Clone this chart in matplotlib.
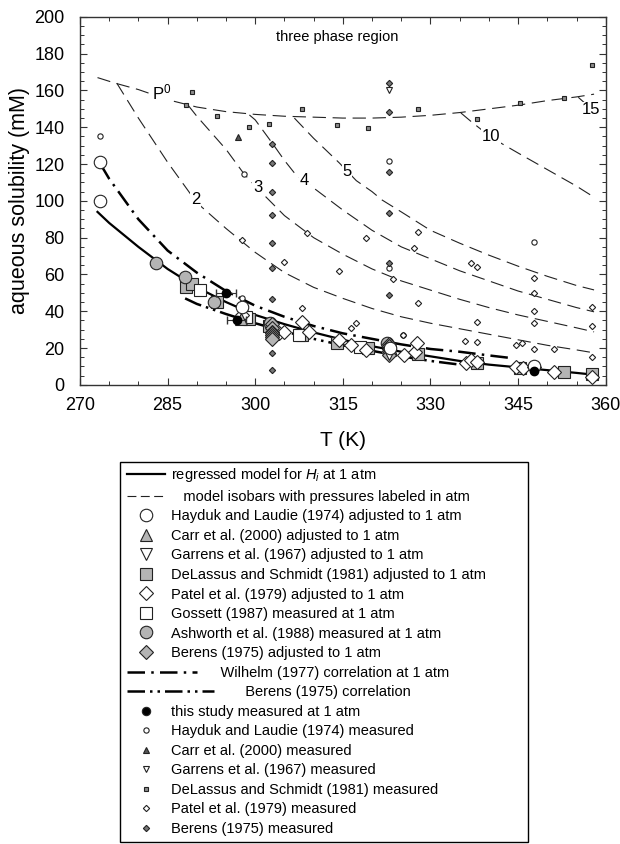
import matplotlib.pyplot as plt
from matplotlib.legend_handler import HandlerLine2D
from matplotlib.lines import Line2D
from matplotlib.patches import Rectangle
from matplotlib.ticker import MultipleLocator

plt.rcParams['font.family'] = ['Liberation Sans', 'DejaVu Sans']
plt.rcParams['mathtext.fontset'] = 'custom'
plt.rcParams['mathtext.rm'] = 'Liberation Sans'
plt.rcParams['mathtext.it'] = 'Liberation Sans:italic'

# regressed model for Hi at 1 atm
model_T = [273, 275, 280, 285, 290, 295, 300, 305, 310, 315, 320, 325, 330, 335, 340, 345, 350, 355, 358]
model_S = [94, 88, 75, 63, 53, 45, 38, 33, 28.5, 24.5, 21, 18, 15.5, 13, 11, 9.5, 8, 6.5, 5.5]

# Wilhelm (1977) correlation
wil_T = [273.5, 275, 280, 285, 290, 295, 300, 305, 310, 315, 320, 325, 330, 335, 340, 344]
wil_S = [120, 112, 90, 73, 61, 51, 43, 37, 32, 28, 25, 22, 19.5, 18, 16, 14.5]

# Berens (1975) correlation
ber_T = [288, 290, 295, 300, 305, 310, 315, 320, 325, 330, 335]
ber_S = [47, 44, 38.5, 33.5, 29, 25, 21.5, 18.5, 15.5, 13, 11]

# model isobars
p0_T = [273, 276, 280, 285, 290, 295, 300, 305, 310, 315, 320, 325, 330, 335, 340, 345, 350, 355, 358]
p0_S = [167, 164, 160.5, 155, 151, 148.5, 147, 146, 145.5, 145, 145, 145.5, 146.5, 148, 150, 152, 154.5, 156.5, 158]
iso2_T = [276.3, 280, 285, 290, 295, 300, 305, 310, 315, 320, 325, 330, 335, 340, 345, 350, 355, 358]
iso2_S = [164, 145, 121, 99, 85, 72, 61, 53, 47, 41.5, 37, 33.5, 30.5, 27.5, 24.5, 21.5, 19, 17.4]
iso3_T = [288.5, 290, 295, 298, 300, 305, 310, 315, 320, 325, 330, 335, 340, 345, 350, 355, 358]
iso3_S = [152, 146, 128, 115, 108, 92, 80, 71, 63, 56.5, 51.5, 46.5, 42, 38, 34.5, 31, 28.8]
iso4_T = [299, 300, 303, 305, 307, 310, 315, 320, 325, 330, 335, 340, 345, 350, 355, 358]
iso4_S = [146.7, 144, 131, 122, 114, 107, 95, 84, 75, 68.5, 62, 56.5, 51, 46.5, 42, 39.7]
iso5_T = [306.7, 310, 314.4, 317.3, 320, 321.7, 325, 330, 335, 340, 345, 350, 355, 358]
iso5_S = [145, 134, 120.6, 111, 105, 100.5, 94, 84, 77, 70.5, 64.5, 59, 54, 51.6]
iso10_T = [335.2, 337, 340, 342, 345, 350, 355, 357.5]
iso10_S = [147.8, 143, 135.5, 131.5, 126, 117, 108, 103]
iso15_T = [355.3, 356.4]
iso15_S = [156.3, 153.2]
iso_labels = ['P$^0$', '2', '3', '4', '5', '10', '15']
iso_label_pos = [(284, 159), (289.8, 100.5), (300.4, 107), (308.4, 111), (315.7, 116), (340.3, 135), (357.4, 149.5)]

# data adjusted to / measured at 1 atm
hay_adj_T = [273.5, 273.5, 297.8, 323, 347.8]
hay_adj_S = [121, 100, 42.5, 20, 10]
carr_adj_T = [297.5]
carr_adj_S = [36]
gar_adj_T = [322.9]
gar_adj_S = [17]
del_adj_T = [288.1, 289.1, 293.5, 299, 302.3, 308, 314, 319.3, 327.9, 337.9, 345.3, 352.8, 357.7]
del_adj_S = [53, 55, 45, 36, 32, 27, 23, 20, 17, 12, 9, 7, 6]
pat_adj_T = [297.8, 304.1, 305, 308, 309.2, 314.4, 316.4, 319, 325.5, 327.4, 327.7, 336, 336.9, 337.9, 344.7, 345.9, 347.8, 351.2, 357.7]
pat_adj_S = [38, 28.3, 29, 34, 28.8, 24.5, 21.7, 19, 16.3, 18, 22.8, 12, 13.6, 12.5, 9.8, 9.2, 9.8, 7, 4.3]
gos_T = [290.5, 298.5, 307.5, 318]
gos_S = [51.5, 37, 27, 20.5]
ash_T = [283, 288, 293, 298, 302.5, 322.5]
ash_S = [66, 58.5, 45, 37.5, 33.5, 22.5]
ber_adj_T = [302.9] * 7 + [322.9] * 6
ber_adj_S = [33, 31, 29, 28, 27, 26, 25, 22, 21, 19.5, 18.5, 17.5, 16.5]
study_T = [295, 296.8, 347.8]
study_S = [50, 35.3, 7.5]
study_err = [1.7, 1.7, 0]

# raw measurements
hay_T = [273.5, 273.5, 298, 297.8, 322.9, 322.9, 325.3, 347.8]
hay_S = [135, 121, 114.7, 47, 121.7, 63.6, 27, 77.7]
carr_T = [297]
carr_S = [134.8]
gar_T = [322.9]
gar_S = [160]
del_T = [288.1, 289.1, 293.5, 299, 302.3, 308, 314, 319.3, 327.9, 337.9, 345.3, 352.8, 357.7]
del_S = [152, 159, 146, 140, 142, 150, 141, 139.7, 150, 144.6, 153.3, 156, 174]
pat_T = [297.8, 305, 308, 308.9, 314.4, 316.4, 317.3, 319, 323.5, 325.3, 327.2, 327.9, 327.9,
         335.9, 336.9, 337.9, 337.9, 337.9, 344.7, 345.7, 347.8, 347.8, 347.8, 347.8, 347.8,
         351.2, 357.7, 357.7, 357.7]
pat_S = [79, 66.8, 42, 82.6, 62, 31, 33.7, 80, 57.6, 27, 74.5, 83, 44.6,
         23.9, 66.3, 64.3, 34.2, 23.4, 21.7, 22.8, 58, 50, 40.2, 33.7, 19.6,
         19.6, 42.4, 32, 15.2]
bern_T = [302.9] * 9 + [322.9] * 6
bern_S = [131, 120.6, 105, 92.4, 77, 63.6, 46.7, 17.4, 8.2, 164, 148.4, 115.8, 93.5, 66.3, 48.9]

grey = '#b4b4b4'
ec = '#222222'

fig = plt.figure(figsize=(6.2, 8.44), dpi=100)
ax = fig.add_axes([0.129, 0.544, 0.848, 0.436])

iso_style = dict(color='#222222', lw=0.8, linestyle=(0, (12, 6)))
for T, S in [(p0_T, p0_S), (iso2_T, iso2_S), (iso3_T, iso3_S), (iso4_T, iso4_S),
             (iso5_T, iso5_S), (iso10_T, iso10_S), (iso15_T, iso15_S)]:
    ax.plot(T, S, zorder=2, **iso_style)
for lab, (tx, ty) in zip(iso_labels, iso_label_pos):
    ax.text(tx, ty, lab, fontsize=12, ha='center', va='center', zorder=3,
            bbox=dict(facecolor='white', edgecolor='none', pad=0.5))

ax.plot(model_T, model_S, color='k', lw=1.6, zorder=3)
ax.plot(wil_T, wil_S, color='k', lw=1.8, linestyle=(0, (7, 2.5, 1, 2.5)), zorder=3)
ax.plot(ber_T, ber_S, color='k', lw=1.8, linestyle=(0, (7, 2, 1, 2, 1, 2)), zorder=3)

big = dict(linestyle='none', markeredgecolor=ec, markeredgewidth=0.8, zorder=5)
small = dict(linestyle='none', markeredgecolor=ec, markeredgewidth=0.8, zorder=4)

ax.plot(del_adj_T, del_adj_S, 's', ms=8, markerfacecolor=grey, **big)
ax.plot(ash_T, ash_S, 'o', ms=9, markerfacecolor=grey, **big)
ax.plot(gos_T, gos_S, 's', ms=8, markerfacecolor='white', **big)
ax.plot(pat_adj_T, pat_adj_S, 'D', ms=7.5, markerfacecolor='white', **big)
ax.plot(ber_adj_T, ber_adj_S, 'D', ms=7.5, markerfacecolor=grey, **big)
ax.plot(carr_adj_T, carr_adj_S, '^', ms=9, markerfacecolor=grey, **big)
ax.plot(gar_adj_T, gar_adj_S, 'v', ms=9, markerfacecolor='white', **big)
ax.plot(hay_adj_T, hay_adj_S, 'o', ms=9, markerfacecolor='white', **big)
ax.errorbar(study_T, study_S, xerr=study_err, fmt='o', ms=6, color='k', ecolor='#333333',
            elinewidth=0.8, capsize=3, zorder=6)

ax.plot(hay_T, hay_S, 'o', ms=3.8, markerfacecolor='white', **small)
ax.plot(carr_T, carr_S, '^', ms=3.8, markerfacecolor='#555555', **small)
ax.plot(gar_T, gar_S, 'v', ms=3.8, markerfacecolor='white', **small)
ax.plot(del_T, del_S, 's', ms=3.5, markerfacecolor='#8c8c8c', **small)
ax.plot(pat_T, pat_S, 'D', ms=3.2, markerfacecolor='white', **small)
ax.plot(bern_T, bern_S, 'D', ms=3.2, markerfacecolor='#777777', **small)

ax.text(314, 189, 'three phase region', fontsize=10.5, ha='center', va='center')

ax.set_xlim(270, 360)
ax.set_ylim(0, 200)
ax.xaxis.set_major_locator(MultipleLocator(15))
ax.xaxis.set_minor_locator(MultipleLocator(5))
ax.yaxis.set_major_locator(MultipleLocator(20))
ax.yaxis.set_minor_locator(MultipleLocator(5))
ax.tick_params(which='both', direction='in', top=True, right=True, labelsize=13, color='#333333')
ax.tick_params(which='major', length=5, width=0.8)
ax.tick_params(which='minor', length=3, width=0.7)
ax.tick_params(axis='x', which='major', pad=9)
ax.tick_params(axis='y', which='major', pad=11)
for sp in ax.spines.values():
    sp.set_color('#333333')
    sp.set_linewidth(1.0)
ax.set_xlabel('T (K)', fontsize=15, labelpad=12)
ax.set_ylabel('aqueous solubility (mM)', fontsize=15.5, labelpad=3)


class LongLine(HandlerLine2D):
    def __init__(self, k, **kw):
        super().__init__(**kw)
        self.k = k

    def create_artists(self, legend, orig_handle, xdescent, ydescent, width, height, fontsize, trans):
        return super().create_artists(legend, orig_handle, xdescent, ydescent, width * self.k,
                                      height, fontsize, trans)


def mk(marker, fc, ms):
    return Line2D([], [], linestyle='none', marker=marker, ms=ms, markerfacecolor=fc,
                  markeredgecolor=ec, markeredgewidth=0.8)


h_model = Line2D([], [], color='k', lw=1.6)
h_iso = Line2D([], [], color='#222222', lw=0.8, linestyle=(0, (8, 4)))
h_wil = Line2D([], [], color='k', lw=1.8, linestyle=(0, (7, 2.5, 1, 2.5)))
h_ber = Line2D([], [], color='k', lw=1.8, linestyle=(0, (7, 2, 1, 2, 1, 2)))

handles = [h_model, h_iso,
           mk('o', 'white', 9), mk('^', grey, 9), mk('v', 'white', 9), mk('s', grey, 8),
           mk('D', 'white', 7.5), mk('s', 'white', 8), mk('o', grey, 9), mk('D', grey, 7.5),
           h_wil, h_ber,
           mk('o', 'k', 6), mk('o', 'white', 3.8), mk('^', '#555555', 3.8), mk('v', 'white', 3.8),
           mk('s', '#8c8c8c', 3.5), mk('D', 'white', 3.2), mk('D', '#777777', 3.2)]
labels = ['regressed model for $H_i$ at 1 atm',
          '   model isobars with pressures labeled in atm',
          'Hayduk and Laudie (1974) adjusted to 1 atm',
          'Carr et al. (2000) adjusted to 1 atm',
          'Garrens et al. (1967) adjusted to 1 atm',
          'DeLassus and Schmidt (1981) adjusted to 1 atm',
          'Patel et al. (1979) adjusted to 1 atm',
          'Gossett (1987) measured at 1 atm',
          'Ashworth et al. (1988) measured at 1 atm',
          'Berens (1975) adjusted to 1 atm',
          '            Wilhelm (1977) correlation at 1 atm',
          '                  Berens (1975) correlation',
          'this study measured at 1 atm',
          'Hayduk and Laudie (1974) measured',
          'Carr et al. (2000) measured',
          'Garrens et al. (1967) measured',
          'DeLassus and Schmidt (1981) measured',
          'Patel et al. (1979) measured',
          'Berens (1975) measured']

leg = fig.legend(handles, labels, loc='upper left', bbox_to_anchor=(0.1935, 0.4562),
                 fontsize=10.5, frameon=False,
                 handlelength=2.6, handletextpad=0.4, labelspacing=0.38, borderpad=0.5,
                 borderaxespad=0,
                 handler_map={h_wil: LongLine(1.85), h_ber: LongLine(2.3), h_iso: LongLine(1.05)})
fig.add_artist(Rectangle((0.1935, 0.0024), 0.658, 0.450, transform=fig.transFigure,
                         fill=False, edgecolor='black', lw=1.0))

fig.savefig('out.png', dpi=100)
